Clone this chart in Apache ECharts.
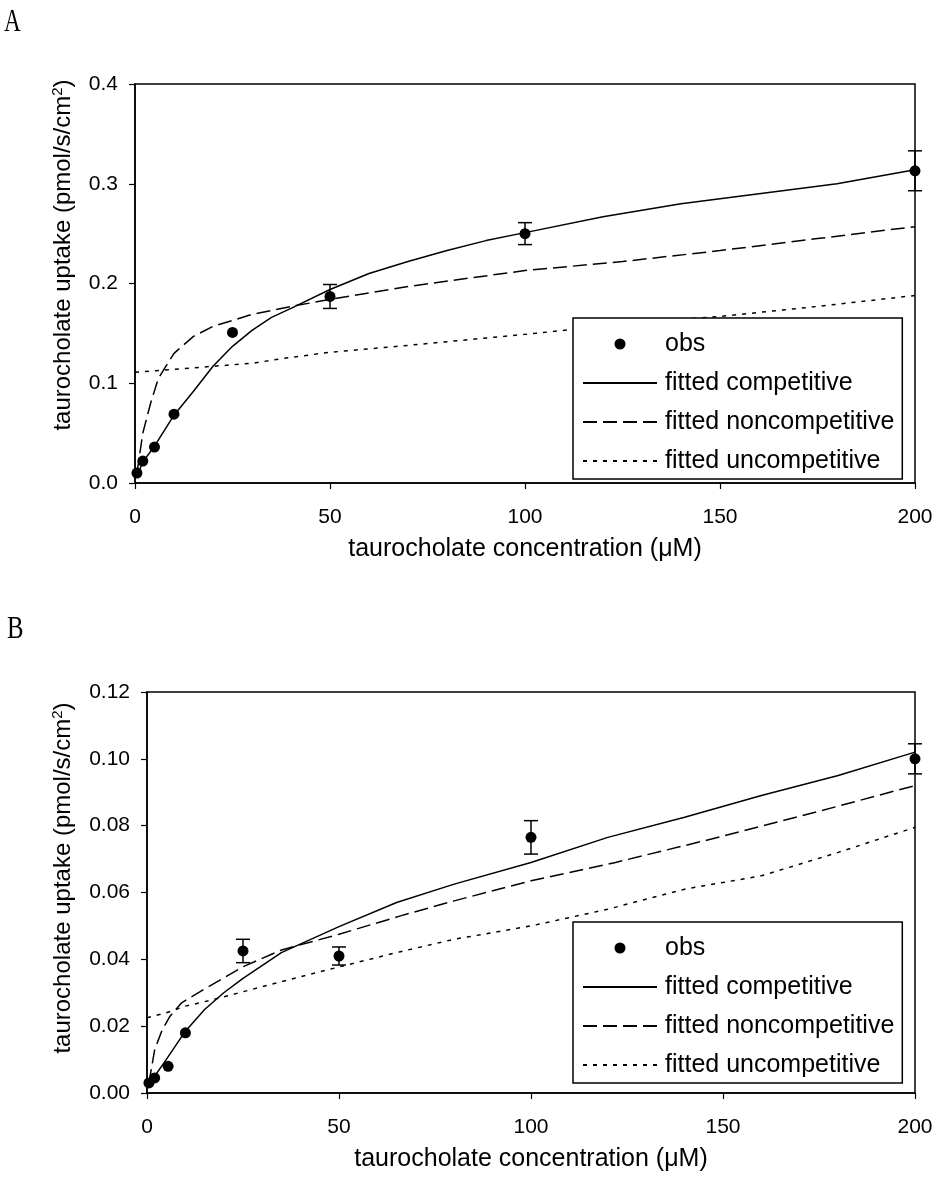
<!DOCTYPE html>
<html lang="en">
<head>
    <meta charset="UTF-8">
    <title>taurocholate uptake</title>
    <script src="https://cdn.jsdelivr.net/npm/echarts@6/dist/echarts.min.js"></script>
    <style>
        body { margin: 0; background: #fff; }
        #box { width: 937px; height: 1183px; }
    </style>
</head>
<body>
<div id="box"></div>
<script>
    // ---- panel A ----
    var obsXA = [0.5, 2, 5, 10, 25, 50, 100, 200];
    var obsYA = [0.010, 0.022, 0.036, 0.069, 0.151, 0.187, 0.250, 0.313];
    var errA = [0, 0, 0, 0, 0, 0.012, 0.011, 0.020];

    var compXA = [0.5, 2, 5, 10, 15, 20, 25, 30, 35, 40, 50, 60, 70, 80, 90, 100, 120, 140, 160, 180, 200];
    var compYA = [0.007, 0.021, 0.037, 0.068, 0.092, 0.117, 0.137, 0.153, 0.166, 0.175, 0.194, 0.210, 0.222, 0.233, 0.243, 0.251, 0.267, 0.280, 0.290, 0.300, 0.314];
    var nonXA = [0.5, 2, 4, 6, 10, 15, 20, 25, 30, 40, 50, 70, 100, 125, 150, 175, 200];
    var nonYA = [0.010, 0.050, 0.080, 0.105, 0.130, 0.147, 0.157, 0.163, 0.169, 0.177, 0.184, 0.197, 0.213, 0.222, 0.233, 0.245, 0.257];
    var uncXA = [0, 10, 20, 30, 40, 50, 70, 100, 130, 150, 175, 200];
    var uncYA = [0.111, 0.114, 0.117, 0.120, 0.126, 0.131, 0.138, 0.149, 0.161, 0.167, 0.177, 0.188];

    // ---- panel B ----
    var obsXB = [0.5, 2, 5.5, 10, 25, 50, 100, 200];
    var obsYB = [0.003, 0.0045, 0.008, 0.018, 0.0425, 0.041, 0.0765, 0.100];
    var errB = [0, 0, 0, 0, 0.0035, 0.0027, 0.005, 0.0045];

    var compXB = [0.5, 2, 5, 10, 15, 20, 25, 35, 50, 65, 80, 100, 120, 140, 160, 180, 200];
    var compYB = [0.002, 0.005, 0.010, 0.0185, 0.025, 0.030, 0.0343, 0.042, 0.0498, 0.057, 0.0625, 0.069, 0.0765, 0.0825, 0.089, 0.095, 0.102];
    var nonXB = [0.5, 2, 4, 6, 9, 16, 25, 35, 50, 66, 80, 100, 122, 147, 174, 200];
    var nonYB = [0.003, 0.013, 0.019, 0.023, 0.027, 0.0318, 0.0378, 0.0428, 0.0475, 0.053, 0.0575, 0.0635, 0.069, 0.076, 0.084, 0.092];
    var uncXB = [0, 5, 10, 16, 25, 40, 52, 66, 80, 100, 120, 140, 160, 180, 200];
    var uncYB = [0.0225, 0.024, 0.026, 0.0276, 0.0303, 0.0348, 0.0383, 0.0423, 0.046, 0.050, 0.055, 0.061, 0.065, 0.072, 0.0795];

    var legendNames = ['obs', 'fitted competitive', 'fitted noncompetitive', 'fitted uncompetitive'];
    var xTitle = 'taurocholate concentration (\u03bcM)';
    var yTitle = 'taurocholate uptake (pmol/s/cm{sup|2})';

    var FONT = 'Liberation Sans';

    function pairs(xs, ys) {
        return xs.map(function (x, i) { return [x, ys[i]]; });
    }

    function errRows(xs, ys, es) {
        var rows = [];
        for (var i = 0; i < xs.length; i++) {
            if (es[i] > 0) rows.push([xs[i], ys[i] - es[i], ys[i] + es[i]]);
        }
        return rows;
    }

    function renderErr(params, api) {
        var x = api.value(0);
        var top = api.coord([x, api.value(2)]);
        var bot = api.coord([x, api.value(1)]);
        var w = 7;
        var st = { stroke: '#000', lineWidth: 1.5 };
        return {
            type: 'group',
            children: [
                { type: 'line', shape: { x1: top[0], y1: top[1], x2: bot[0], y2: bot[1] }, style: st },
                { type: 'line', shape: { x1: top[0] - w, y1: top[1], x2: top[0] + w, y2: top[1] }, style: st },
                { type: 'line', shape: { x1: bot[0] - w, y1: bot[1], x2: bot[0] + w, y2: bot[1] }, style: st }
            ]
        };
    }

    function xAxisFor(idx) {
        return {
            type: 'value', gridIndex: idx, min: 0, max: 200, interval: 50,
            name: xTitle, nameLocation: 'middle', nameGap: 54,
            nameTextStyle: { fontFamily: FONT, fontSize: 25, color: '#000' },
            axisLine: { show: true, lineStyle: { color: '#000', width: 1.5 } },
            axisTick: { show: true, length: 6, lineStyle: { color: '#000', width: 1.2 } },
            axisLabel: { fontFamily: FONT, fontSize: 21, color: '#000', margin: 24 },
            splitLine: { show: false }
        };
    }

    function yAxisFor(idx, max, step, digits, gap, pad) {
        return {
            type: 'value', gridIndex: idx, min: 0, max: max, interval: step,
            name: yTitle, nameLocation: 'middle', nameGap: gap,
            nameTextStyle: {
                fontFamily: FONT, fontSize: 24, color: '#000', padding: [0, 0, 0, pad],
                rich: { sup: { fontFamily: FONT, fontSize: 15, color: '#000', verticalAlign: 'top', padding: [0, 0, 12, 0] } }
            },
            axisLine: { show: true, lineStyle: { color: '#000', width: 1.5 } },
            axisTick: { show: true, length: 6, lineStyle: { color: '#000', width: 1.2 } },
            axisLabel: {
                fontFamily: FONT, fontSize: 21, color: '#000', margin: 17,
                formatter: function (v) { return v.toFixed(digits); }
            },
            splitLine: { show: false }
        };
    }

    function legendFor(top) {
        // line entries: hide the symbol that echarts puts on line icons
        var items = legendNames.map(function (n, i) {
            return i === 0 ? { name: n } : { name: n, itemStyle: { opacity: 0 } };
        });
        return {
            data: items,
            orient: 'vertical',
            left: 573, top: top,
            itemWidth: 74, itemHeight: 11,
            itemGap: 11,
            padding: [12, 8, 4, 9],
            backgroundColor: '#fff',
            borderColor: '#000', borderWidth: 1.5,
            selectedMode: false,
            textStyle: { fontFamily: FONT, fontSize: 25, color: '#000', lineHeight: 28, padding: [0, 0, 0, 3] }
        };
    }

    function seriesFor(idx, obsX, obsY, errs, cX, cY, nX, nY, uX, uY) {
        var base = { xAxisIndex: idx, yAxisIndex: idx };
        return [
            Object.assign({
                name: 'fitted competitive', type: 'line', symbol: 'none', silent: true,
                lineStyle: { color: '#000', width: 1.5, type: 'solid' },
                itemStyle: { color: '#000' },
                data: pairs(cX, cY)
            }, base),
            Object.assign({
                name: 'fitted noncompetitive', type: 'line', symbol: 'none', silent: true,
                lineStyle: { color: '#000', width: 1.5, type: [14, 6] },
                itemStyle: { color: '#000' },
                data: pairs(nX, nY)
            }, base),
            Object.assign({
                name: 'fitted uncompetitive', type: 'line', symbol: 'none', silent: true,
                lineStyle: { color: '#000', width: 1.5, type: [4, 6] },
                itemStyle: { color: '#000' },
                data: pairs(uX, uY)
            }, base),
            Object.assign({
                name: 'err' + idx, type: 'custom', silent: true,
                renderItem: renderErr,
                encode: { x: 0, y: [1, 2] },
                data: errRows(obsX, obsY, errs),
                z: 3
            }, base),
            Object.assign({
                name: 'obs', type: 'scatter', symbol: 'circle', symbolSize: 11,
                itemStyle: { color: '#000', opacity: 1 },
                data: pairs(obsX, obsY),
                z: 4
            }, base)
        ];
    }

    var myChart = echarts.init(document.getElementById('box'), null, { renderer: 'canvas' });

    var option = {
        animation: false,
        backgroundColor: '#fff',
        graphic: [
            { type: 'text', left: 4, top: 7, style: { text: 'A', fontFamily: 'Liberation Serif', fontSize: 31, fill: '#000' }, scaleX: 0.75 },
            { type: 'text', left: 7, top: 614, style: { text: 'B', fontFamily: 'Liberation Serif', fontSize: 31, fill: '#000' }, scaleX: 0.8 }
        ],
        grid: [
            { left: 135, top: 84, width: 780, height: 399, show: true, borderColor: '#000', borderWidth: 1.5, backgroundColor: 'transparent' },
            { left: 147, top: 692, width: 768, height: 401, show: true, borderColor: '#000', borderWidth: 1.5, backgroundColor: 'transparent' }
        ],
        xAxis: [xAxisFor(0), xAxisFor(1)],
        yAxis: [yAxisFor(0, 0.4, 0.1, 1, 58, 57), yAxisFor(1, 0.12, 0.02, 2, 70, 29)],
        legend: [legendFor(318), legendFor(922)],
        series: seriesFor(0, obsXA, obsYA, errA, compXA, compYA, nonXA, nonYA, uncXA, uncYA)
            .concat(seriesFor(1, obsXB, obsYB, errB, compXB, compYB, nonXB, nonYB, uncXB, uncYB))
    };

    myChart.setOption(option);
</script>
</body>
</html>
